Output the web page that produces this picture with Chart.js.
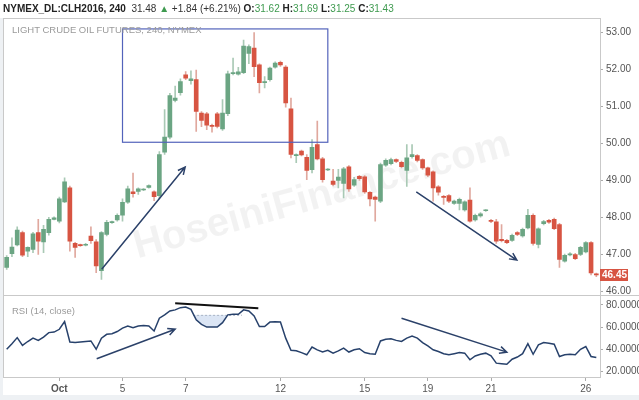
<!DOCTYPE html>
<html>
<head>
<meta charset="utf-8">
<script src="https://cdn.jsdelivr.net/npm/chart.js@4.4.0/dist/chart.umd.min.js"></script>
<style>
    html, body { margin: 0; padding: 0; background: #fff; }
    #wrap { position: relative; width: 639px; height: 400px; overflow: hidden; font-family: "Liberation Sans", Arial, sans-serif; }
    #header { position: absolute; left: 3px; top: 3px; font-size: 10px; color: #333; white-space: nowrap; }
    #header b { color: #222; }
    #header .up { color: #3e9a4f; }
    #title { position: absolute; left: 12px; top: 24px; font-size: 9.5px; color: #9a9a9a; letter-spacing: 0px; }
    #rsiTitle { position: absolute; left: 12px; top: 305px; font-size: 9.5px; color: #9a9a9a; }
    #leftStrip { position: absolute; left: 0; top: 18px; width: 3px; height: 382px; background: #eef1f4; }
    #bottomStrip { position: absolute; left: 0; top: 395px; width: 639px; height: 5px; background: #eef1f4; }
    canvas { position: absolute; left: 0; top: 0; }
</style>
</head>
<body>
<div id="wrap">
    <canvas id="chart" width="639" height="400"></canvas>
    <div id="leftStrip"></div>
    <div id="bottomStrip"></div>
    <div id="header"><b>NYMEX_DL:CLH2016, 240</b>&nbsp; 31.48 <span class="up">&#9650;</span> +1.84 (+6.21%) <b>O:</b><span class="up">31.62</span> <b>H:</b><span class="up">31.69</span> <b>L:</b><span class="up">31.25</span> <b>C:</b><span class="up">31.43</span></div>
    <div id="title">LIGHT CRUDE OIL FUTURES, 240, NYMEX</div>
    <div id="rsiTitle">RSI (14, close)</div>
</div>
<script>
// 4h candles, index 0..112
const opens = [46.65, 47.02, 47.26, 47.59, 47.09, 47.14, 47.59, 47.34, 47.59, 47.95,
    47.90, 48.42, 48.80, 47.30, 47.26, 47.25, 47.50, 47.34, 46.56, 47.54,
    47.86, 47.93, 48.06, 48.41, 48.69, 48.70, 48.74, 48.81, 48.69, 48.59,
    49.76, 50.17, 51.16, 51.37, 51.85, 51.69, 51.72, 50.82, 50.80, 50.49,
    50.80, 50.39, 50.80, 51.88, 51.87, 51.91, 52.43, 52.57, 52.12, 51.64,
    51.72, 52.06, 52.19, 52.06, 50.93, 49.67, 49.79, 49.62, 49.29, 49.97,
    49.58, 49.28, 48.98, 49.00, 48.92, 49.37, 48.87, 49.11, 49.10, 48.68,
    48.55, 48.44, 49.41, 49.45, 49.56, 49.49, 49.27, 49.64, 49.67, 49.56,
    49.34, 49.23, 48.83, 48.57, 48.59, 48.38, 48.38, 48.20, 48.47, 47.93,
    48.04, 48.18, 47.92, 47.88, 47.41, 47.38, 47.38, 47.59, 47.50, 47.72,
    48.06, 47.27, 47.83, 47.92, 47.95, 47.81, 46.82, 46.99, 47.00, 47.00,
    47.07, 47.32, 46.47];
const closes = [46.92, 47.20, 47.66, 46.98, 47.19, 47.56, 47.36, 47.68, 47.95, 47.99,
    48.50, 48.96, 47.36, 47.19, 47.24, 47.27, 47.37, 46.69, 47.59, 47.87,
    47.88, 48.06, 48.41, 48.77, 48.64, 48.77, 48.76, 48.86, 48.56, 49.70,
    50.17, 51.29, 51.22, 51.67, 51.76, 51.74, 50.86, 50.62, 50.49, 50.46,
    50.46, 50.82, 51.88, 51.91, 51.93, 52.63, 52.61, 52.07, 51.64, 51.66,
    52.03, 52.17, 52.12, 51.09, 49.70, 49.69, 49.69, 49.27, 49.89, 49.58,
    49.02, 49.30, 48.89, 49.09, 49.31, 48.77, 49.02, 49.05, 48.69, 48.50,
    48.49, 49.43, 49.54, 49.56, 49.51, 49.37, 49.61, 49.70, 49.54, 49.34,
    49.14, 48.80, 48.68, 48.54, 48.44, 48.44, 48.49, 48.42, 47.90, 48.06,
    48.10, 48.19, 47.89, 47.36, 47.37, 47.32, 47.52, 47.54, 47.68, 48.06,
    47.30, 47.69, 47.89, 47.87, 47.70, 46.87, 46.98, 47.02, 46.89, 47.19,
    47.32, 46.50, 46.45];
const highs = [46.97, 47.45, 47.75, 47.63, 47.21, 47.60, 47.95, 47.79, 48.00, 48.02,
    48.55, 49.07, 48.85, 47.33, 47.28, 47.30, 47.75, 47.40, 47.62, 47.92,
    47.90, 48.10, 48.50, 48.85, 49.20, 48.80, 48.78, 48.88, 48.72, 49.78,
    50.91, 51.35, 51.55, 51.74, 51.94, 51.96, 51.98, 50.86, 50.84, 50.52,
    50.84, 51.18, 51.95, 52.30, 52.05, 52.79, 52.66, 52.99, 52.15, 51.80,
    52.06, 52.20, 52.22, 52.10, 51.22, 49.72, 49.82, 49.70, 50.10, 50.60,
    49.62, 49.32, 49.30, 49.30, 49.35, 49.40, 49.08, 49.14, 49.13, 48.70,
    48.58, 49.47, 49.58, 49.60, 49.58, 49.52, 49.97, 49.97, 49.70, 49.58,
    49.36, 49.26, 48.86, 48.60, 48.62, 48.47, 48.52, 48.45, 48.80, 48.09,
    48.13, 48.21, 47.95, 47.95, 47.81, 47.41, 47.55, 47.62, 47.71, 48.22,
    48.10, 47.72, 47.92, 47.95, 47.98, 47.84, 47.01, 47.05, 47.03, 47.22,
    47.35, 47.35, 46.50];
const lows = [46.60, 46.94, 47.23, 46.94, 46.94, 47.05, 47.00, 47.05, 47.52, 47.93,
    47.85, 48.40, 47.09, 46.92, 47.22, 47.23, 47.30, 46.51, 46.33, 47.50,
    47.84, 47.90, 47.90, 48.38, 48.55, 48.62, 48.72, 48.79, 48.45, 48.50,
    49.70, 50.12, 51.12, 51.30, 51.72, 51.60, 50.32, 50.45, 50.37, 50.30,
    50.42, 50.35, 50.75, 51.85, 51.84, 51.88, 52.15, 51.80, 51.36, 51.50,
    51.68, 52.03, 52.08, 50.98, 49.61, 49.48, 49.66, 49.02, 49.20, 49.55,
    48.95, 49.26, 48.85, 48.80, 48.53, 48.70, 48.84, 49.00, 48.65, 48.31,
    47.90, 48.40, 49.38, 49.42, 49.48, 49.34, 48.84, 49.60, 49.50, 49.30,
    49.10, 48.44, 48.60, 48.35, 48.40, 48.35, 48.20, 48.17, 47.87, 47.90,
    48.01, 48.16, 47.86, 47.30, 47.34, 47.29, 47.35, 47.51, 47.47, 47.69,
    47.25, 47.18, 47.80, 47.84, 47.67, 46.65, 46.79, 46.96, 46.86, 46.97,
    47.04, 46.45, 46.40];
const rsiValues = [40, 45, 50.5, 43.5, 47, 50, 48, 51, 55, 55.5,
    58, 65, 46.5, 46, 46.5, 47, 47.5, 40, 50, 53.5,
    54, 56, 59, 61, 59.5, 61, 61.5, 61, 56.5, 68,
    71, 74.5, 75.5, 77.5, 78, 76, 66.5, 62.5, 60, 60,
    60, 64, 71, 71.5, 71.5, 75.5, 74.5, 70, 60.5, 60.5,
    64.5, 64.7, 64.5, 50, 39, 38.7, 37, 35, 42, 39.5,
    37.5, 39, 36.5, 38.5, 41, 37.5, 39.5, 40.5, 37, 36,
    35.5, 47.5, 49, 49.5, 48, 47, 50, 52, 50, 46,
    43, 39.5, 38, 36, 35, 36, 37, 36.5, 30.5, 34,
    35.5, 36.5, 34, 27.5, 27, 26.5, 31, 33, 36, 45,
    35.5, 44, 46, 45.5, 44.5, 33.5, 35, 35.5, 35, 40,
    42.5, 33.5, 32.5];

const dateTickIdx = [10, 22, 34, 52, 68, 80, 92, 110];
const dateLabels = ["Oct", "5", "7", "12", "15", "19", "21", "26"];
const priceTicks = [46, 47, 48, 49, 50, 51, 52, 53];
const rsiTicks = [20, 40, 60, 80];

// drawings on the chart, in candle index / price units
const trendArrows = [
    { axis: "y", from: [18.05, 46.60], to: [33.9, 49.36] },
    { axis: "y", from: [77.8, 48.69], to: [96.9, 46.85] },
    { axis: "rsi", from: [17.1, 31.4], to: [32.0, 58.1] },
    { axis: "rsi", from: [75.0, 68.0], to: [95.0, 37.4] }
];
const boxArea = { x0: 22.0, x1: 61.0, y0: 50.03, y1: 53.09 };
const rsiTopLine = { from: [32.0, 81.5], to: [47.8, 77.0] };
const rsiLevel = { x0: 35.4, x1: 44.7, value: 71 };

const GREEN = "#6ba583";
const RED = "#d75442";

const bodies = opens.map((o, i) => ({ x: i, y: [o, closes[i]] }));
const wicks = lows.map((l, i) => ({ x: i, y: [l, highs[i]] }));
const candleColors = opens.map((o, i) => closes[i] >= o ? GREEN : RED);
const wickColors = opens.map((o, i) => closes[i] >= o ? "#a9c9b5" : "#e0a89e");
const rsiPoints = rsiValues.map((v, i) => ({ x: i, y: v }));

const drawArrow = (ctx, x1, y1, x2, y2) => {
    const ang = Math.atan2(y2 - y1, x2 - x1);
    const head = 8;
    ctx.beginPath();
    ctx.moveTo(x1, y1);
    ctx.lineTo(x2, y2);
    ctx.moveTo(x2 - head * Math.cos(ang - 0.45), y2 - head * Math.sin(ang - 0.45));
    ctx.lineTo(x2, y2);
    ctx.lineTo(x2 - head * Math.cos(ang + 0.45), y2 - head * Math.sin(ang + 0.45));
    ctx.stroke();
};

const backgroundPlugin = {
    id: "background",
    beforeDatasetsDraw(chart) {
        const { ctx, scales } = chart;
        // watermark
        ctx.save();
        ctx.translate(322, 196);
        ctx.rotate(-0.27);
        ctx.font = "bold 40px 'Liberation Sans', Arial, sans-serif";
        ctx.fillStyle = "rgba(0,0,0,0.05)";
        ctx.textAlign = "center";
        ctx.textBaseline = "middle";
        ctx.fillText("HoseiniFinance.com", 0, 0);
        ctx.restore();

        // shaded dip under the RSI level
        const x = scales.x, r = scales.rsi;
        const ly = r.getPixelForValue(rsiLevel.value);
        ctx.save();
        ctx.beginPath();
        ctx.rect(x.getPixelForValue(rsiLevel.x0), ly, x.getPixelForValue(rsiLevel.x1) - x.getPixelForValue(rsiLevel.x0), r.bottom - ly);
        ctx.clip();
        ctx.beginPath();
        ctx.moveTo(x.getPixelForValue(rsiLevel.x0), ly);
        ctx.lineTo(x.getPixelForValue(rsiLevel.x1), ly);
        for (let i = Math.ceil(rsiLevel.x1); i >= Math.floor(rsiLevel.x0); i--) {
            ctx.lineTo(x.getPixelForValue(i), r.getPixelForValue(rsiValues[i]));
        }
        ctx.closePath();
        ctx.fillStyle = "rgba(190,208,235,0.55)";
        ctx.fill();
        ctx.restore();

        ctx.save();
        ctx.strokeStyle = "#aab4c4";
        ctx.lineWidth = 1;
        ctx.setLineDash([2, 2]);
        ctx.beginPath();
        ctx.moveTo(x.getPixelForValue(rsiLevel.x0), ly + 0.5);
        ctx.lineTo(x.getPixelForValue(rsiLevel.x1), ly + 0.5);
        ctx.stroke();
        ctx.restore();
    }
};

const drawingsPlugin = {
    id: "drawings",
    afterDatasetsDraw(chart) {
        const { ctx, chartArea, scales } = chart;
        const x = scales.x, y = scales.y, r = scales.rsi;

        ctx.save();
        // panel frame
        ctx.strokeStyle = "#c9c9c9";
        ctx.lineWidth = 1;
        ctx.strokeRect(chartArea.left + 0.5, chartArea.top + 0.5, chartArea.width, chartArea.height);
        ctx.beginPath();
        ctx.moveTo(chartArea.left, Math.round(y.bottom) + 0.5);
        ctx.lineTo(chartArea.right + 39, Math.round(y.bottom) + 0.5);
        ctx.stroke();

        // box around the top
        ctx.strokeStyle = "#5363bb";
        ctx.lineWidth = 1.2;
        const bx0 = x.getPixelForValue(boxArea.x0), bx1 = x.getPixelForValue(boxArea.x1);
        const by0 = y.getPixelForValue(boxArea.y1), by1 = y.getPixelForValue(boxArea.y0);
        ctx.strokeRect(bx0, by0, bx1 - bx0, by1 - by0);

        // trend arrows
        ctx.strokeStyle = "#2b4169";
        ctx.lineWidth = 1.5;
        trendArrows.forEach(a => {
            const s = a.axis === "y" ? y : r;
            drawArrow(ctx, x.getPixelForValue(a.from[0]), s.getPixelForValue(a.from[1]),
                x.getPixelForValue(a.to[0]), s.getPixelForValue(a.to[1]));
        });

        // black line over the RSI highs
        ctx.strokeStyle = "#111";
        ctx.lineWidth = 2;
        ctx.beginPath();
        ctx.moveTo(x.getPixelForValue(rsiTopLine.from[0]), r.getPixelForValue(rsiTopLine.from[1]));
        ctx.lineTo(x.getPixelForValue(rsiTopLine.to[0]), r.getPixelForValue(rsiTopLine.to[1]));
        ctx.stroke();
        ctx.restore();
    },
    afterDraw(chart) {
        const { ctx, scales } = chart;
        const last = closes[closes.length - 1];
        const py = scales.y.getPixelForValue(last);
        ctx.save();
        ctx.fillStyle = RED;
        ctx.fillRect(600, Math.round(py) - 6, 28, 12);
        ctx.fillStyle = "#fff";
        ctx.font = "bold 10px 'Liberation Sans', Arial, sans-serif";
        ctx.textBaseline = "middle";
        ctx.fillText(last.toFixed(2), 602, Math.round(py));
        ctx.restore();
    }
};

const axisWidth = scale => { scale.width = 39; };

new Chart(document.getElementById("chart"), {
    type: "bar",
    data: {
        datasets: [
            {
                type: "line",
                data: rsiPoints,
                yAxisID: "rsi",
                borderColor: "#27416b",
                borderWidth: 1.5,
                pointRadius: 0,
                tension: 0,
                order: 0
            },
            {
                data: bodies,
                yAxisID: "y",
                backgroundColor: candleColors,
                barThickness: 4,
                minBarLength: 1,
                grouped: false,
                order: 1
            },
            {
                data: wicks,
                yAxisID: "y",
                backgroundColor: wickColors,
                barThickness: 1,
                grouped: false,
                order: 2
            }
        ]
    },
    options: {
        responsive: false,
        animation: false,
        devicePixelRatio: 1,
        layout: { padding: { top: 18, left: 3, right: 0, bottom: 3 } },
        plugins: { legend: { display: false }, tooltip: { enabled: false } },
        scales: {
            x: {
                type: "linear",
                min: -0.7,
                max: 112.7,
                offset: false,
                grid: { offset: false, drawOnChartArea: false, drawTicks: true, tickLength: 4, color: "#aaa" },
                border: { color: "#aaa" },
                afterBuildTicks: scale => { scale.ticks = dateTickIdx.map(v => ({ value: v })); },
                ticks: {
                    autoSkip: false,
                    maxRotation: 0,
                    padding: 2,
                    color: "#555",
                    font: ctx => ({ size: 10, family: "'Liberation Sans', Arial, sans-serif", weight: ctx.tick && ctx.tick.value === 10 ? "bold" : "normal" }),
                    callback: value => dateLabels[dateTickIdx.indexOf(value)]
                }
            },
            y: {
                position: "right",
                stack: "panes",
                stackWeight: 278,
                min: 45.9,
                max: 53.385,
                grid: { drawOnChartArea: false, tickLength: 3, color: "#aaa" },
                border: { color: "#aaa" },
                afterBuildTicks: scale => { scale.ticks = priceTicks.map(v => ({ value: v })); },
                afterFit: axisWidth,
                ticks: {
                    autoSkip: false,
                    padding: 3,
                    color: "#555",
                    font: { size: 10, family: "'Liberation Sans', Arial, sans-serif" },
                    callback: v => v.toFixed(2)
                }
            },
            rsi: {
                position: "right",
                stack: "panes",
                stackWeight: 82,
                min: 15,
                max: 88.7,
                grid: { drawOnChartArea: false, tickLength: 3, color: "#aaa" },
                border: { color: "#aaa" },
                afterBuildTicks: scale => { scale.ticks = rsiTicks.map(v => ({ value: v })); },
                afterFit: axisWidth,
                ticks: {
                    autoSkip: false,
                    padding: 3,
                    color: "#555",
                    font: { size: 10, family: "'Liberation Sans', Arial, sans-serif" },
                    callback: v => v.toFixed(4)
                }
            }
        }
    },
    plugins: [backgroundPlugin, drawingsPlugin]
});
</script>
</body>
</html>
